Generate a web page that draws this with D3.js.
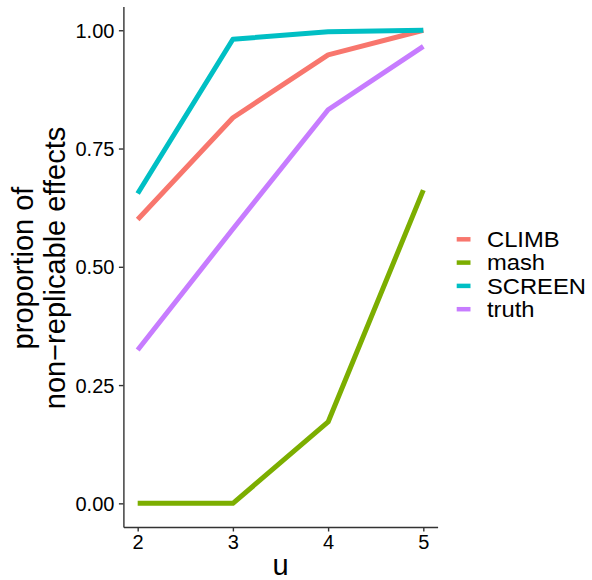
<!DOCTYPE html>
<html><head><meta charset="utf-8">
<script src="https://cdn.jsdelivr.net/npm/d3@7"></script>
<style>body{margin:0;background:#fff}svg{display:block}text{font-family:"Liberation Sans",Arial,sans-serif}</style>
</head><body><svg id="c" width="592" height="580"></svg>
<script>
const uValues = [2, 3, 4, 5];
const seriesNames = ["CLIMB", "mash", "SCREEN", "truth"];
const climb  = [0.600, 0.815, 0.948, 1.000];
const mash   = [0.000, 0.000, 0.172, 0.662];
const screen = [0.655, 0.981, 0.997, 1.000];
const truth  = [0.324, 0.580, 0.832, 0.966];
const yTicks = [0, 0.25, 0.5, 0.75, 1];
const yTickLabels = ["0.00", "0.25", "0.50", "0.75", "1.00"];
const colors = ["#F8766D", "#7CAE00", "#00BFC4", "#C77CFF"];

const series = [climb, mash, screen, truth].map((vals, i) => ({
  name: seriesNames[i], color: colors[i],
  pts: vals.map((v, j) => ({u: uValues[j], v}))
}));

const svg = d3.select("#c");
const pLeft = 123.4, pRight = 437.6, pTop = 6.6, pBottom = 527;
const x = d3.scaleLinear().domain([1.85, 5.15]).range([pLeft, pRight]);
const y = d3.scaleLinear().domain([-0.05, 1.05]).range([pBottom, pTop]);

const line = d3.line().x(d => x(d.u)).y(d => y(d.v));
svg.append("g").selectAll("path").data(series).join("path")
  .attr("d", d => line(d.pts)).attr("fill", "none")
  .attr("stroke", d => d.color).attr("stroke-width", 5)
  .attr("stroke-linecap", "butt").attr("stroke-linejoin", "round");

const xAxis = svg.append("g").attr("transform", `translate(0,${pBottom})`)
  .call(d3.axisBottom(x).tickValues(uValues).tickFormat(d3.format("d")).tickSize(4.5).tickSizeOuter(0));
const yAxis = svg.append("g").attr("transform", `translate(${pLeft},0)`)
  .call(d3.axisLeft(y).tickValues(yTicks).tickFormat((d, i) => yTickLabels[i]).tickSize(4.5).tickSizeOuter(0));
[xAxis, yAxis].forEach(g => {
  g.select(".domain").attr("stroke", "#333").attr("stroke-width", 1.4);
  g.selectAll(".tick line").attr("stroke", "#333").attr("stroke-width", 1.4);
  g.selectAll(".tick text").attr("fill", "#000").style("font-size", "20px")
    .style("font-family", "Liberation Sans, Arial, sans-serif");
});
xAxis.selectAll(".tick text").attr("dy", "0.71em").attr("y", 8);
yAxis.selectAll(".tick text").attr("x", -9).attr("dy", "0.35em");

svg.append("text").attr("x", (pLeft + pRight) / 2).attr("y", 575)
  .attr("text-anchor", "middle").style("font-size", "29px").text("u");

const yt = svg.append("text").attr("transform", "translate(33,268) rotate(-90)")
  .attr("text-anchor", "middle").style("font-size", "29px");
yt.append("tspan").attr("x", 0).attr("y", 0).text("proportion of");
yt.append("tspan").attr("x", 0).attr("y", 32).text("non\u2212replicable effects");

const lg = svg.append("g").selectAll("g").data(series).join("g")
  .attr("transform", (d, i) => `translate(0,${239.3 + i * 23.3})`);
lg.append("line").attr("x1", 456.7).attr("x2", 470.5).attr("y1", 0).attr("y2", 0)
  .attr("stroke", d => d.color).attr("stroke-width", 4.5);
lg.append("text").attr("transform", "translate(487,7.8) scale(1.08,1)")
  .style("font-size", "22px").text(d => d.name);
</script></body></html>
